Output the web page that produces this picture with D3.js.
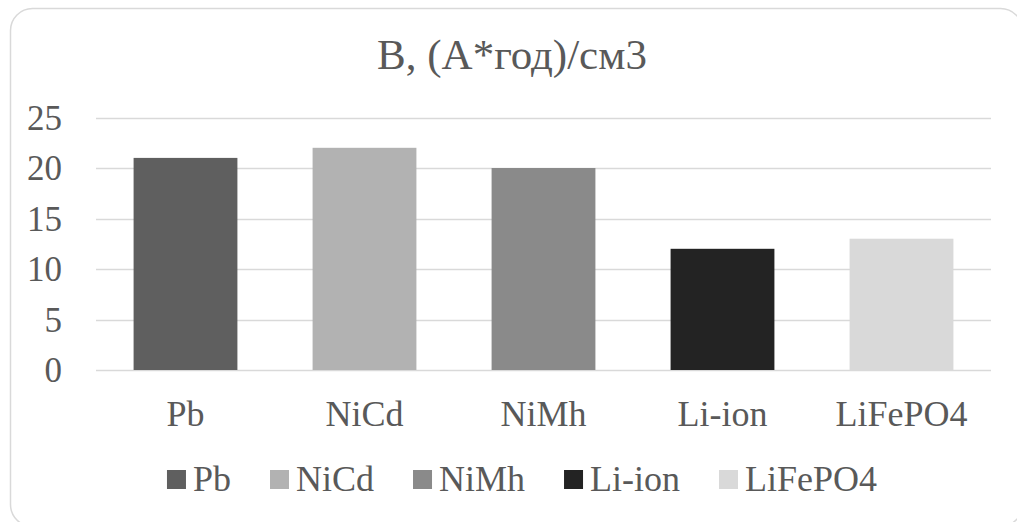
<!DOCTYPE html>
<html>
<head>
<meta charset="utf-8">
<script src="https://cdn.jsdelivr.net/npm/d3@7"></script>
<style>
  body { margin: 0; background: #fff; }
</style>
</head>
<body>
<div id="chart"></div>
<script>
// chart data
let categories = ["Pb", "NiCd", "NiMh", "Li-ion", "LiFePO4"];
let values = [21, 22, 20, 12, 13];
let yTicks = [0, 5, 10, 15, 20, 25];
let title = "В, (А*год)/см3";

let width = 1017, height = 522;
let colors = ["#5f5f5f", "#b2b2b2", "#8a8a8a", "#232323", "#d9d9d9"];
let FONT = "'Liberation Serif', Tinos, 'Times New Roman', 'DejaVu Serif', serif";

let svg = d3.select("#chart")
    .append("svg")
    .attr("width", width)
    .attr("height", height)
    .style("font-family", FONT);

// outer border
svg.append("rect")
    .attr("x", 10.5)
    .attr("y", 8.5)
    .attr("width", 1012)
    .attr("height", 518)
    .attr("rx", 22)
    .attr("fill", "#fff")
    .attr("stroke", "#d9d9d9")
    .attr("stroke-width", 1.5);

// scales
let x = d3.scaleBand()
    .domain(categories)
    .range([96, 991])
    .paddingInner(0.42)
    .paddingOuter(0.21);

let y = d3.scaleLinear()
    .domain([0, 25])
    .range([370, 117.5]);

let color = d3.scaleOrdinal().domain(categories).range(colors);

// gridlines
svg.append("g")
    .selectAll("line")
    .data(yTicks)
    .enter().append("line")
    .attr("x1", 96)
    .attr("x2", 991)
    .attr("y1", d => Math.round(y(d)) + 0.5)
    .attr("y2", d => Math.round(y(d)) + 0.5)
    .attr("stroke", "#d9d9d9")
    .attr("stroke-width", 1.5);

// y tick labels
svg.append("g")
    .selectAll("text")
    .data(yTicks)
    .enter().append("text")
    .attr("x", 62)
    .attr("y", d => y(d) + 12)
    .attr("fill", "#595959")
    .style("text-anchor", "end")
    .style("font-size", "35px")
    .text(d => d);

// bars
svg.append("g")
    .selectAll("rect")
    .data(categories)
    .enter().append("rect")
    .attr("x", d => x(d))
    .attr("y", (d, i) => y(values[i]))
    .attr("width", x.bandwidth())
    .attr("height", (d, i) => y(0) - y(values[i]))
    .attr("fill", d => color(d));

// x axis labels
svg.append("g")
    .selectAll("text")
    .data(categories)
    .enter().append("text")
    .attr("x", d => x(d) + x.bandwidth() / 2)
    .attr("y", 426)
    .attr("fill", "#595959")
    .style("text-anchor", "middle")
    .style("font-size", "36px")
    .text(d => d);

// title
svg.append("text")
    .attr("x", 512)
    .attr("y", 69)
    .attr("fill", "#595959")
    .style("text-anchor", "middle")
    .style("font-size", "43px")
    .text(title);

// legend
let legend = svg.append("g");
let lx = 0, gap = 39;
categories.forEach((c, i) => {
    let item = legend.append("g").attr("transform", `translate(${lx},0)`);
    item.append("rect")
        .attr("x", 0)
        .attr("y", 470)
        .attr("width", 19)
        .attr("height", 19)
        .attr("fill", color(c));
    let t = item.append("text")
        .attr("x", 26)
        .attr("y", 491)
        .attr("fill", "#595959")
        .style("font-size", "36px")
        .text(c);
    lx += 26 + t.node().getComputedTextLength() + gap;
});
let legendWidth = lx - gap;
legend.attr("transform", `translate(${522 - legendWidth / 2},0)`);
</script>
</body>
</html>
